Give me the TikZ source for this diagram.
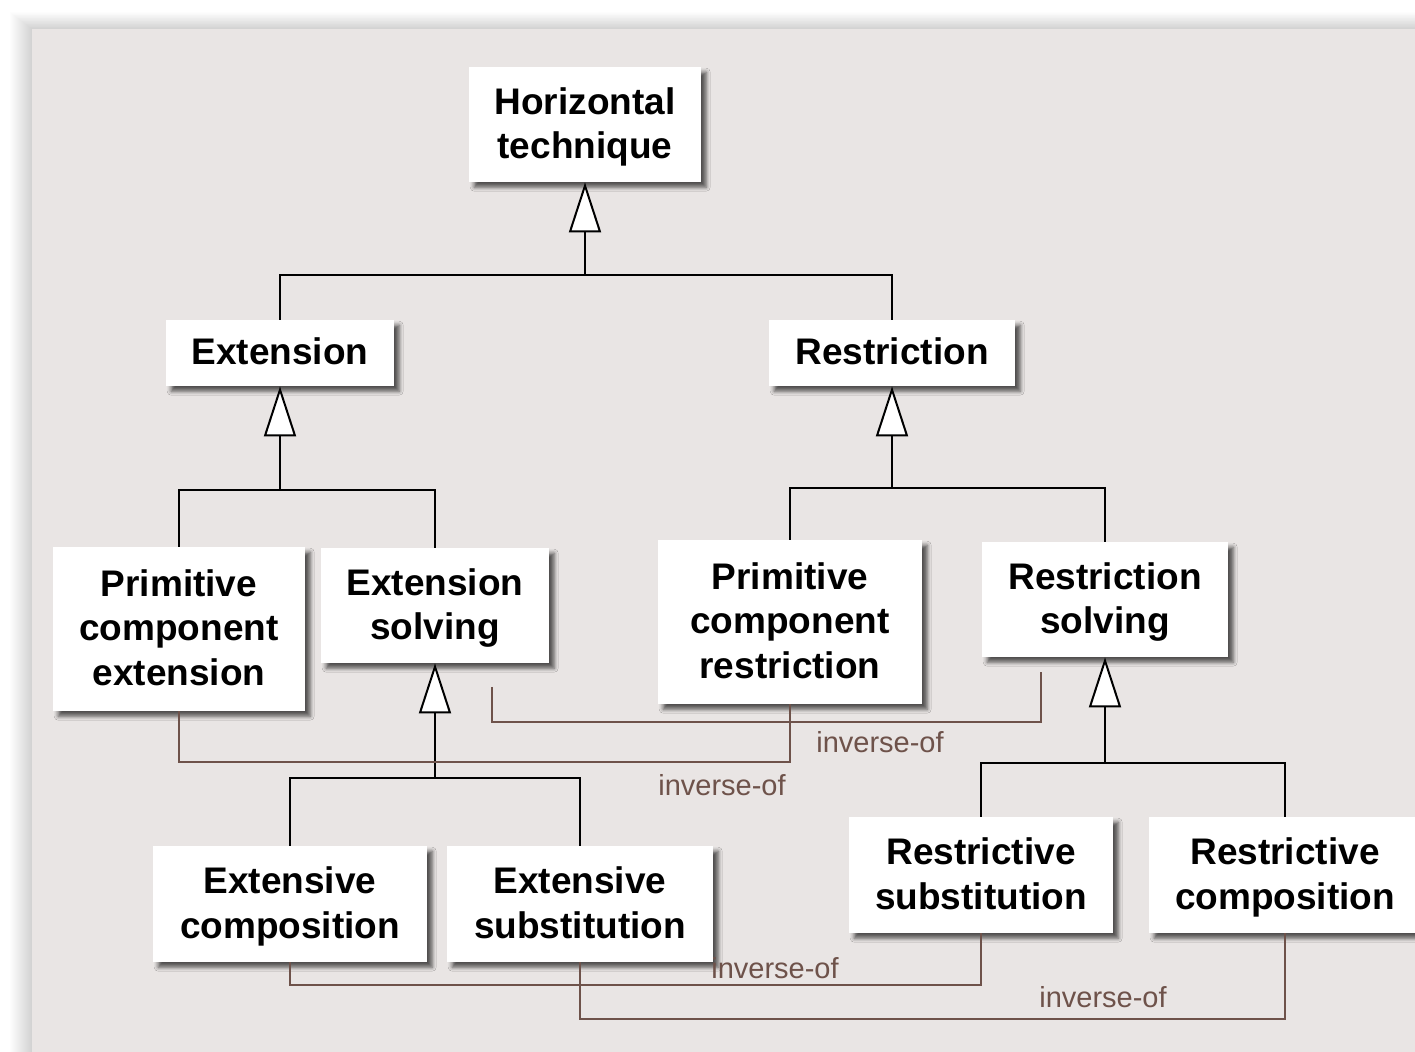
\documentclass[tikz,border=0pt]{standalone}
\usepackage{fontspec}
\setmainfont{Liberation Sans}
\usetikzlibrary{arrows.meta,shadows.blur}

\definecolor{panel}{RGB}{233,229,228}
\definecolor{invbrown}{RGB}{110,82,74}

\begin{document}
\begin{tikzpicture}[x=0.5pt,y=-0.5pt,
  concept/.style={draw=none, fill=white, align=center, inner sep=0pt,
    text depth=1.5pt,
    font=\bfseries\fontsize{18.5}{22.3}\selectfont,
    blur shadow={shadow xshift=2.6pt, shadow yshift=-2.6pt,
      shadow blur radius=2pt, shadow opacity=65}},
  isa/.style={line width=1pt, draw=black},
  gen/.style={isa, -{Triangle[length=25pt, width=16pt, fill=white]}},
  inv/.style={line width=0.9pt, draw=invbrown},
  invlabel/.style={text=invbrown, font=\fontsize{14.5}{17}\selectfont, inner sep=0pt}
]
\useasboundingbox (0,0) rectangle (1415,1052);
\clip (0,0) rectangle (1415,1052);
\fill[white] (0,0) rectangle (1415,1052);

% soft shadow along the top and left of the backdrop
\foreach \d in {1,...,22}
  \fill[black, opacity=0.008] (32-\d,29-0.75*\d) rectangle (1480,1120);
% backdrop panel
\fill[panel] (32,29) rectangle (1480,1120);

% concepts
\node[concept, minimum width=116pt, minimum height=57.5pt] (top)   at (585,124.5) {Horizontal\\technique};
\node[concept, minimum width=114pt, minimum height=33pt]   (ext)   at (280,353)   {Extension};
\node[concept, minimum width=123pt, minimum height=33pt]   (res)   at (892,353)   {Restriction};
\node[concept, minimum width=126pt, minimum height=82pt]   (pce)   at (179,629)   {Primitive\\component\\extension};
\node[concept, minimum width=114pt, minimum height=57.5pt] (exs)   at (435,605.5) {Extension\\solving};
\node[concept, minimum width=132pt, minimum height=82pt]   (pcr)   at (790,622)   {Primitive\\component\\restriction};
\node[concept, minimum width=123pt, minimum height=57.5pt] (rss)   at (1105,599.5){Restriction\\solving};
\node[concept, minimum width=137pt, minimum height=58pt]   (ecomp) at (290,904)   {Extensive\\composition};
\node[concept, minimum width=133pt, minimum height=58pt]   (esub)  at (580,904)   {Extensive\\substitution};
\node[concept, minimum width=132pt, minimum height=58pt]   (rsub)  at (981,875)   {Restrictive\\substitution};
\node[concept, minimum width=136pt, minimum height=58pt]   (rcomp) at (1285,875)  {Restrictive\\composition};

% generalisation trees
\coordinate (b1) at (585,275);
\coordinate (b2) at (280,490);
\coordinate (b3) at (892,488);
\coordinate (b4) at (435,778);
\coordinate (b5) at (1105,763);

\draw[isa] (ext.north) |- (b1) -| (res.north);
\draw[gen] (b1) -- (top.south);
\draw[isa] (pce.north) |- (b2) -| (exs.north);
\draw[gen] (b2) -- (ext.south);
\draw[isa] (pcr.north) |- (b3) -| (rss.north);
\draw[gen] (b3) -- (res.south);
\draw[isa] (ecomp.north) |- (b4) -| (esub.north);
\draw[gen] (b4) -- (exs.south);
\draw[isa] (rsub.north) |- (b5) -| (rcomp.north);
\draw[gen] (b5) -- (rss.south);

% inverse-of relations
\coordinate (ia) at (492,687);
\coordinate (ib) at (1041,672);
\draw[inv] (pce.south) |- (pcr.south |- 0,762) -- (pcr.south);
\draw[inv] (ia) |- (ib |- 0,722) -- (ib);
\draw[inv] (ecomp.south) |- (rsub.south |- 0,985) -- (rsub.south);
\draw[inv] (esub.south) |- (rcomp.south |- 0,1019) -- (rcomp.south);

\node[invlabel] (l1) at (722,785) {inverse-of};
\node[invlabel] (l2) at (880,742) {inverse-of};
\node[invlabel] (l3) at (775,968) {inverse-of};
\node[invlabel] (l4) at (1103,997) {inverse-of};
\end{tikzpicture}
\end{document}
